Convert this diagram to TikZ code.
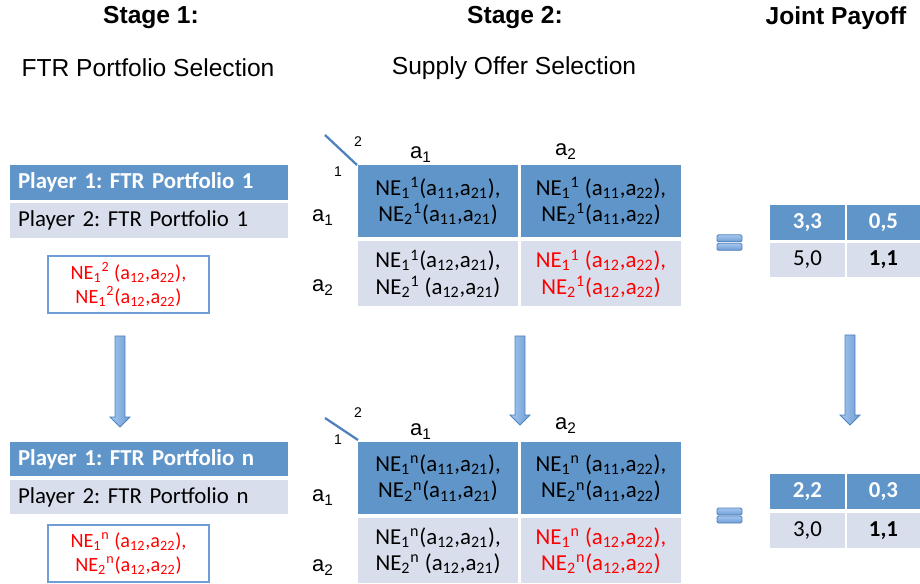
\documentclass[tikz,border=0pt]{standalone}
\usepackage{fontspec}
\setmainfont{Carlito}
\newfontfamily\arialfont{Liberation Sans}
\usepackage{tikz}
\frenchspacing
\definecolor{cellblue}{HTML}{5F95C9}
\definecolor{cellgrey}{HTML}{D9DEEC}
\definecolor{lineblue}{HTML}{4F81BD}
\definecolor{arrowlight}{HTML}{A4C6EE}
\definecolor{arrowdark}{HTML}{6E9DD6}
\definecolor{boxedge}{HTML}{6E9ED6}
\newcommand{\NE}[2]{NE\textsubscript{#1}\textsuperscript{#2}}
\newcommand{\act}[1]{a\textsubscript{#1}}

\begin{document}
\begin{tikzpicture}[x=0.02cm,y=-0.02cm,
  head/.style={font=\arialfont\bfseries\fontsize{14}{16}\selectfont},
  sub/.style={font=\arialfont\fontsize{14}{16}\selectfont},
  bar/.style={minimum height=0.7cm,text width=5.24cm,inner xsep=0.16cm,inner ysep=0pt,align=left},
  bluebar/.style={bar,fill=cellblue,text=white,font=\bfseries\fontsize{13}{15}\selectfont},
  greybar/.style={bar,fill=cellgrey,font=\fontsize{13}{15}\selectfont},
  redbox/.style={draw=boxedge,line width=0.6pt,text=red,minimum width=3.22cm,minimum height=1.14cm,inner sep=0pt,align=center,font=\fontsize{11.5}{13.5}\selectfont},
  cell/.style={minimum width=3.2cm,inner sep=0pt,align=center,font=\fontsize{13}{15}\selectfont},
  bluecell/.style={cell,fill=cellblue},
  greycell/.style={cell,fill=cellgrey},
  row1/.style={minimum height=1.44cm},
  row2/.style={minimum height=1.3cm},
  lab/.style={font=\arialfont\fontsize{12.5}{14}\selectfont,inner sep=0pt},
  tiny/.style={font=\arialfont\fontsize{8}{9}\selectfont,inner sep=0pt},
  diag/.style={draw=lineblue,line width=1.3pt},
  pay/.style={minimum height=0.7cm,inner sep=0pt,font=\fontsize{13}{15}\selectfont},
  payblue/.style={pay,fill=cellblue,text=white,font=\bfseries\fontsize{13}{15}\selectfont},
  paygrey/.style={pay,fill=cellgrey},
  eqbar/.style={draw=lineblue,line width=0.5pt,top color=arrowlight,bottom color=arrowdark,minimum width=0.5cm,minimum height=0.14cm,inner sep=0pt,rounded corners=0.8pt},
  blockarrow/.style={draw=lineblue,line width=0.5pt,left color=arrowlight,right color=arrowdark}]
  \useasboundingbox (0,0) rectangle (920,584);

  \node[head] (st1) at (151,18) {Stage 1:};
  \node[head] (st2) at (515,18) {Stage 2:};
  \node[head] (jp) at (836,18) {Joint Payoff};
  \node[sub] (sel1) at (148,68) {FTR Portfolio Selection};
  \node[sub] (sel2) at (514,68) {Supply Offer Selection};

  \node[bluebar] (p1a) at (149,182.5) {Player 1: FTR Portfolio 1};
  \node[greybar] (p2a) at (149,220.5) {Player 2: FTR Portfolio 1};
  \node[redbox] (nea) at (128.5,284.5) {\NE{1}{2} (\act{12},\act{22}),\\\NE{1}{2}(\act{12},\act{22})};
  \node[bluebar] (p1b) at (149,459) {Player 1: FTR Portfolio n};
  \node[greybar] (p2b) at (149,497) {Player 2: FTR Portfolio n};
  \node[redbox] (neb) at (128.5,553.5) {\NE{1}{n} (\act{12},\act{22}),\\\NE{2}{n}(\act{12},\act{22})};

  \node[bluecell,row1] (m11) at (438,201) {\NE{1}{1}(\act{11},\act{21}),\\\NE{2}{1}(\act{11},\act{21})};
  \node[bluecell,row1] (m12) at (601,201) {\NE{1}{1} (\act{11},\act{22}),\\\NE{2}{1}(\act{11},\act{22})};
  \node[greycell,row2] (m21) at (438,273.5) {\NE{1}{1}(\act{12},\act{21}),\\\NE{2}{1} (\act{12},\act{21})};
  \node[greycell,row2,text=red] (m22) at (601,273.5) {\NE{1}{1} (\act{12},\act{22}),\\\NE{2}{1}(\act{12},\act{22})};
  \node[lab] (c1a) at (421,154.5) {\act{1}};
  \node[lab] (c2a) at (566,151.5) {\act{2}};
  \node[lab] (r1a) at (323,217.5) {\act{1}};
  \node[lab] (r2a) at (323,287.5) {\act{2}};
  \node[tiny] (pl2a) at (358,142) {2};
  \node[tiny] (pl1a) at (338,172) {1};
  \coordinate (d1a) at (325,135);
  \coordinate (d1b) at (357,165);
  \draw[diag] (d1a) -- (d1b);

  \node[bluecell,row1] (n11) at (438,478) {\NE{1}{n}(\act{11},\act{21}),\\\NE{2}{n}(\act{11},\act{21})};
  \node[bluecell,row1] (n12) at (601,478) {\NE{1}{n} (\act{11},\act{22}),\\\NE{2}{n}(\act{11},\act{22})};
  \node[greycell,row2] (n21) at (438,550.5) {\NE{1}{n}(\act{12},\act{21}),\\\NE{2}{n} (\act{12},\act{21})};
  \node[greycell,row2,text=red] (n22) at (601,550.5) {\NE{1}{n} (\act{12},\act{22}),\\\NE{2}{n}(\act{12},\act{22})};
  \node[lab] (c1b) at (421,431.5) {\act{1}};
  \node[lab] (c2b) at (566,425.5) {\act{2}};
  \node[lab] (r1b) at (323,497.5) {\act{1}};
  \node[lab] (r2b) at (323,567.5) {\act{2}};
  \node[tiny] (pl2b) at (358,413) {2};
  \node[tiny] (pl1b) at (338,440) {1};
  \coordinate (d2a) at (325,418);
  \coordinate (d2b) at (358,440);
  \draw[diag] (d2a) -- (d2b);

  \node[payblue,minimum width=1.5cm] (p11) at (807.5,222.5) {3,3};
  \node[payblue,minimum width=1.46cm] (p12) at (883.5,222.5) {0,5};
  \node[paygrey,minimum width=1.5cm] (p21) at (807.5,260) {5,0};
  \node[paygrey,minimum width=1.46cm] (p22) at (883.5,260) {\textbf{1,1}};
  \node[payblue,minimum width=1.5cm] (q11) at (807.5,491.5) {2,2};
  \node[payblue,minimum width=1.46cm] (q12) at (883.5,491.5) {0,3};
  \node[paygrey,minimum width=1.5cm] (q21) at (807.5,530.5) {3,0};
  \node[paygrey,minimum width=1.46cm] (q22) at (883.5,530.5) {\textbf{1,1}};

  \node[eqbar] (eq1a) at (729.5,238.3) {};
  \node[eqbar] (eq1b) at (729.5,246.8) {};
  \node[eqbar] (eq2a) at (729.5,511.5) {};
  \node[eqbar] (eq2b) at (729.5,519.5) {};

  \coordinate (ar1) at (120,336);
  \coordinate (ar2) at (520,336);
  \coordinate (ar3) at (850,335);
  \draw[blockarrow] (ar1) ++(-5,0) -- ++(0,81) -- ++(-5,0) -- ++(10,10) -- ++(10,-10) -- ++(-5,0) -- ++(0,-81) -- cycle;
  \draw[blockarrow] (ar2) ++(-5,0) -- ++(0,79) -- ++(-5,0) -- ++(10,10) -- ++(10,-10) -- ++(-5,0) -- ++(0,-79) -- cycle;
  \draw[blockarrow] (ar3) ++(-5,0) -- ++(0,80) -- ++(-5,0) -- ++(10,10) -- ++(10,-10) -- ++(-5,0) -- ++(0,-80) -- cycle;
\end{tikzpicture}
\end{document}
